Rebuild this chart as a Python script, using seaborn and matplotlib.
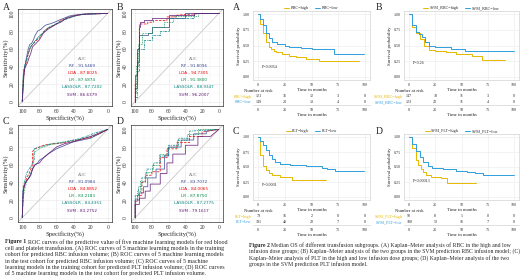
import numpy as np
import pandas as pd
import matplotlib
matplotlib.use("Agg")
import matplotlib.pyplot as plt
import seaborn as sns

# ---------------- data ----------------
models = ["RF", "LDA", "LR", "LASSOLR", "SVM"]
model_colors = ["#3B4992", "#EE0000", "#008B45", "#008280", "#631879"]
model_dashes = [(None, None), (3, 1.5), (1, 1), (3, 1, 1, 1), (None, None)]

auc_A = [91.5469, 87.8025, 87.5874, 87.7202, 86.6379]
auc_B = [91.8096, 94.7305, 91.3800, 88.9347, 96.2007]
auc_C = [81.0984, 84.8852, 83.2183, 84.4351, 83.2752]
auc_D = [83.7072, 84.0065, 87.8750, 87.2775, 79.1617]

roc_A = {
    "RF": ([100, 99, 98, 97, 95, 93, 91, 89, 87, 85, 82, 78, 75, 72, 68, 62, 58, 50, 45, 40, 30, 20, 0],
           [0, 20, 35, 40, 50, 60, 65, 66, 70, 75, 80, 82, 85, 87, 88, 90, 92, 95, 97, 98, 99, 100, 100]),
    "LDA": ([100, 99, 97, 96, 94, 92, 90, 88, 85, 80, 76, 70, 66, 60, 55, 48, 40, 30, 0],
            [0, 25, 38, 42, 50, 58, 62, 65, 68, 72, 78, 83, 85, 88, 92, 94, 97, 99, 100]),
    "LR": ([100, 99, 98, 96, 94, 91, 89, 87, 84, 80, 75, 70, 64, 58, 52, 45, 38, 28, 0],
           [0, 22, 36, 44, 52, 60, 63, 66, 70, 74, 79, 84, 86, 89, 92, 95, 97, 99, 100]),
    "LASSOLR": ([100, 99, 98, 96, 93, 91, 89, 86, 83, 79, 74, 69, 63, 57, 51, 44, 36, 26, 0],
                [0, 28, 37, 45, 54, 61, 64, 67, 71, 75, 80, 84, 87, 90, 93, 95, 98, 99, 100]),
    "SVM": ([100, 99, 98, 97, 96, 94, 92, 90, 88, 85, 80, 75, 70, 65, 60, 55, 48, 40, 30, 0],
            [0, 15, 30, 38, 40, 44, 50, 55, 62, 65, 70, 78, 82, 85, 88, 90, 95, 97, 99, 100]),
}
roc_B = {
    "RF": ([100, 100, 98, 98, 96, 96, 85, 85, 80, 80, 60, 60, 40, 40, 0],
           [0, 15, 15, 45, 45, 75, 75, 78, 78, 85, 85, 95, 95, 100, 100]),
    "LDA": ([100, 100, 97, 97, 95, 95, 85, 85, 78, 78, 62, 62, 50, 50, 20, 0],
            [0, 20, 20, 55, 55, 88, 88, 90, 90, 92, 92, 96, 96, 98, 100, 100]),
    "LR": ([100, 100, 99, 99, 97, 97, 92, 92, 80, 80, 65, 65, 55, 55, 25, 25, 0],
           [0, 10, 10, 40, 40, 65, 65, 78, 78, 85, 85, 90, 90, 97, 97, 100, 100]),
    "LASSOLR": ([100, 100, 98, 98, 95, 95, 90, 90, 80, 80, 70, 70, 60, 60, 30, 30, 0],
                [0, 5, 5, 35, 35, 60, 60, 70, 70, 75, 75, 80, 80, 95, 95, 100, 100]),
    "SVM": ([100, 100, 98, 98, 96, 96, 94, 94, 90, 90, 80, 80, 60, 60, 30, 30, 0],
            [0, 30, 30, 60, 60, 85, 85, 90, 90, 92, 92, 95, 95, 98, 98, 100, 100]),
}
roc_C = {
    "RF": ([100, 99, 97, 95, 92, 90, 88, 85, 82, 80, 75, 70, 65, 60, 55, 50, 45, 40, 30, 20, 10, 0],
           [0, 30, 38, 42, 45, 50, 55, 60, 62, 65, 68, 72, 75, 78, 80, 82, 84, 86, 88, 90, 95, 100]),
    "LDA": ([100, 99, 98, 95, 92, 90, 88, 88, 85, 80, 75, 70, 60, 50, 40, 30, 20, 10, 0],
            [0, 25, 35, 45, 50, 55, 60, 75, 78, 80, 82, 83, 84, 85, 87, 89, 91, 95, 100]),
    "LR": ([100, 99, 97, 94, 91, 89, 87, 87, 83, 78, 72, 66, 58, 48, 38, 28, 18, 8, 0],
           [0, 22, 33, 43, 48, 53, 58, 72, 76, 79, 81, 83, 84, 86, 88, 90, 92, 96, 100]),
    "LASSOLR": ([100, 99, 97, 95, 92, 90, 88, 86, 86, 80, 72, 65, 55, 45, 35, 25, 15, 0],
                [0, 35, 42, 50, 55, 58, 62, 65, 78, 80, 82, 84, 85, 87, 89, 92, 96, 100]),
    "SVM": ([100, 99, 98, 96, 93, 90, 88, 85, 80, 75, 70, 65, 60, 50, 40, 30, 20, 10, 0],
            [0, 30, 35, 40, 44, 48, 55, 60, 62, 68, 72, 76, 80, 84, 86, 89, 92, 96, 100]),
}
roc_D = {
    "RF": ([100, 100, 95, 95, 90, 90, 85, 85, 75, 75, 65, 65, 60, 60, 45, 45, 30, 30, 15, 15, 0],
           [0, 20, 20, 28, 28, 35, 35, 45, 45, 55, 55, 70, 70, 80, 80, 88, 88, 95, 95, 98, 100]),
    "LDA": ([100, 100, 97, 97, 92, 92, 88, 88, 80, 80, 70, 70, 62, 62, 50, 50, 35, 35, 20, 20, 0],
            [0, 18, 18, 25, 25, 40, 40, 48, 48, 52, 52, 68, 68, 78, 78, 85, 85, 92, 92, 97, 100]),
    "LR": ([100, 100, 98, 98, 94, 94, 88, 88, 80, 80, 72, 72, 62, 62, 50, 50, 38, 38, 25, 25, 0],
           [0, 22, 22, 30, 30, 42, 42, 52, 52, 60, 60, 72, 72, 80, 80, 88, 88, 95, 95, 100, 100]),
    "LASSOLR": ([100, 100, 96, 96, 92, 92, 86, 86, 78, 78, 70, 70, 60, 60, 48, 48, 35, 35, 0],
                [0, 25, 25, 35, 35, 45, 45, 55, 55, 62, 62, 70, 70, 82, 82, 90, 90, 98, 100]),
    "SVM": ([100, 100, 95, 95, 88, 88, 82, 82, 70, 70, 62, 62, 55, 55, 40, 40, 25, 25, 10, 0],
            [0, 15, 15, 22, 22, 30, 30, 38, 38, 50, 50, 62, 62, 72, 72, 82, 82, 92, 92, 100]),
}

# Kaplan-Meier step curves (time in months, survival probability)
km_A_hi_t = [0, 2, 4, 7, 10, 12, 15, 17, 22, 29, 35, 45, 57, 95]
km_A_hi_s = [1.0, 0.85, 0.70, 0.55, 0.48, 0.45, 0.42, 0.39, 0.36, 0.33, 0.31, 0.29, 0.26, 0.26]
km_A_lo_t = [0, 2, 4, 7, 10, 13, 18, 25, 29, 40, 50, 71, 99]
km_A_lo_s = [1.0, 0.92, 0.83, 0.70, 0.62, 0.55, 0.53, 0.50, 0.47, 0.46, 0.45, 0.37, 0.37]

km_B_hi_t = [0, 3, 6, 10, 14, 19, 25, 35, 45, 60, 70, 92]
km_B_hi_s = [1.0, 0.80, 0.70, 0.60, 0.50, 0.43, 0.41, 0.39, 0.36, 0.34, 0.27, 0.27]
km_B_lo_t = [0, 3, 6, 9, 12, 15, 19, 25, 33, 40, 53, 100]
km_B_lo_s = [1.0, 0.82, 0.72, 0.68, 0.64, 0.55, 0.49, 0.48, 0.48, 0.45, 0.41, 0.41]

km_C_hi_t = [0, 2, 4, 7, 10, 13, 20, 32, 64]
km_C_hi_s = [1.0, 0.70, 0.52, 0.45, 0.40, 0.37, 0.34, 0.29, 0.29]
km_C_lo_t = [0, 2, 4, 7, 10, 13, 16, 20, 30, 45, 60, 65, 72, 99]
km_C_lo_s = [1.0, 0.93, 0.87, 0.78, 0.70, 0.63, 0.58, 0.55, 0.53, 0.51, 0.49, 0.47, 0.43, 0.43]

km_D_hi_t = [0, 3, 6, 8, 11, 13, 16, 21, 30, 36, 64]
km_D_hi_s = [1.0, 0.82, 0.62, 0.54, 0.46, 0.42, 0.37, 0.33, 0.31, 0.24, 0.24]
km_D_lo_t = [0, 3, 6, 10, 13, 18, 22, 32, 45, 55, 63, 71, 100]
km_D_lo_s = [1.0, 0.88, 0.76, 0.66, 0.59, 0.52, 0.48, 0.46, 0.43, 0.42, 0.40, 0.36, 0.36]

risk_times = [0, 25, 50, 75, 100]
risk_A_hi = [121, 31, 12, 3, 0]
risk_A_lo = [149, 20, 13, 4, 0]
risk_B_hi = [147, 38, 11, 3, 0]
risk_B_lo = [123, 22, 11, 4, 0]
risk_C_hi = [79, 16, 2, 0, 0]
risk_C_lo = [191, 48, 22, 7, 0]
risk_D_hi = [90, 8, 1, 0, 0]
risk_D_lo = [180, 52, 16, 7, 0]

groups_A = ["RBC=high", "RBC=low"]
groups_B = ["SVM_RBC=high", "SVM_RBC=low"]
groups_C = ["PLT=high", "PLT=low"]
groups_D = ["SVM_PLT=high", "SVM_PLT=low"]
pvals = ["P=0.0054", "P=0.26", "P=0.0001", "P=0.00013"]
km_colors = ["#E7B800", "#2E9FDF"]

caption1_lines = [
    "ROC curves of the predictive value of five machine learning models for red blood",
    "cell and platelet transfusion. (A) ROC curves of 5 machine learning models in the training",
    "cohort for predicted RBC infusion volume; (B) ROC curves of 5 machine learning models",
    "in the test cohort for predicted RBC infusion volume; (C) ROC curves of 5 machine",
    "learning models in the training cohort for predicted PLT infusion volume; (D) ROC curves",
    "of 5 machine learning models in the test cohort for predicted PLT infusion volume.",
]
caption2_lines = [
    "Median OS of different transfusion subgroups. (A) Kaplan–Meier analysis of RBC in the high and low",
    "infusion dose groups; (B) Kaplan–Meier analysis of the two groups in the SVM prediction RBC infusion model; (C)",
    "Kaplan–Meier analysis of PLT in the high and low infusion dose groups; (D) Kaplan–Meier analysis of the two",
    "groups in the SVM prediction PLT infusion model.",
]

# ---------------- figure ----------------
sns.set_theme(style="white")
plt.rcParams["font.family"] = ["Liberation Serif", "DejaVu Serif"]
plt.rcParams["axes.linewidth"] = 0.5

W, H = 520, 279
fig = plt.figure(figsize=(W / 100, H / 100), dpi=100)


def rect(x0, y0, x1, y1):
    return [x0 / W, 1 - y1 / H, (x1 - x0) / W, (y1 - y0) / H]


def draw_roc(ax, roc, aucs):
    rows = []
    for m, (sp, se) in roc.items():
        for i, (a, b) in enumerate(zip(sp, se)):
            rows.append((m, i, a, b))
    df = pd.DataFrame(rows, columns=["model", "order", "spec", "sens"])
    ax.axline((100, 0), (0, 100), color="#C9C9C9", lw=0.6, zorder=1)
    sns.lineplot(data=df, x="spec", y="sens", hue="model", style="model",
                 hue_order=models, style_order=models,
                 palette=dict(zip(models, model_colors)),
                 dashes=dict(zip(models, [d if d[0] else "" for d in model_dashes])),
                 estimator=None, sort=False, units="model", lw=0.6, alpha=0.85,
                 legend=False, ax=ax, zorder=3)
    ax.set_xlim(105, -5)
    ax.set_ylim(-5, 105)
    ax.set_xticks([100, 80, 60, 40, 20, 0])
    ax.set_yticks([0, 20, 40, 60, 80, 100])
    ax.set_xticks([90, 70, 50, 30, 10], minor=True)
    ax.set_yticks([10, 30, 50, 70, 90], minor=True)
    ax.grid(True, which="major", color="#E6E6E6", lw=0.4)
    ax.grid(True, which="minor", color="#F2F2F2", lw=0.3)
    ax.tick_params(axis="both", which="major", labelsize=4, length=1.5, width=0.4, pad=1, colors="#333333")
    ax.tick_params(axis="both", which="minor", length=0)
    for lab in ax.get_yticklabels():
        lab.set_rotation(90)
        lab.set_va("center")
    ax.set_xlabel("Specificity(%)", fontsize=4.8, labelpad=0.5)
    ax.set_ylabel("Sensitivity(%)", fontsize=4.8, labelpad=1)
    for s in ax.spines.values():
        s.set_color("#333333")
        s.set_linewidth(0.5)
    ys = [48, 40, 32, 24, 16, 8]
    ax.text(30, ys[0], "AUC", color="#8C8C8C", fontsize=3, ha="center", va="center",
            family=["DejaVu Sans"])
    for m, c, a, y in zip(models, model_colors, aucs, ys[1:]):
        ax.text(30, y, f"{m} - {a:.4f}", color=c, fontsize=3, ha="center", va="center",
                family=["DejaVu Sans"])


roc_rects = [rect(18, 9, 112, 106), rect(131, 9, 223, 106),
             rect(18, 125, 112, 222), rect(131, 125, 223, 222)]
for r, roc, aucs in zip(roc_rects, [roc_A, roc_B, roc_C, roc_D], [auc_A, auc_B, auc_C, auc_D]):
    ax = fig.add_axes(r)
    draw_roc(ax, roc, aucs)

for letter, (x, y) in zip("ABCD", [(3, 7), (117, 7), (3, 122), (117, 122)]):
    fig.text(x / W, 1 - y / H, letter, fontsize=7, ha="left", va="center")


def draw_km(ax, rax, hi_t, hi_s, lo_t, lo_s, groups, r_hi, r_lo, pval, p_y):
    df = pd.concat([
        pd.DataFrame({"time": hi_t, "surv": hi_s, "group": groups[0]}),
        pd.DataFrame({"time": lo_t, "surv": lo_s, "group": groups[1]}),
    ])
    sns.lineplot(data=df, x="time", y="surv", hue="group", hue_order=groups,
                 palette=km_colors, drawstyle="steps-post", estimator=None,
                 lw=0.7, ax=ax)
    sns.move_legend(ax, "lower center", bbox_to_anchor=(0.5, 1.01), ncol=2, title=None,
                    frameon=False, fontsize=3, handlelength=1.2, columnspacing=1.5,
                    handletextpad=0.4, borderaxespad=0, borderpad=0)
    ax.set_xlim(-5, 105)
    ax.set_ylim(-0.05, 1.05)
    ax.set_xticks(risk_times)
    ax.set_yticks([0, 0.25, 0.5, 0.75, 1.0])
    ax.set_yticklabels(["0.00", "0.25", "0.50", "0.75", "1.00"])
    ax.grid(True, color="#EBEBEB", lw=0.4)
    ax.tick_params(labelsize=3, length=1.2, width=0.3, pad=1, colors="#333333")
    ax.set_xlabel("Time in months", fontsize=3.4, labelpad=0.5)
    ax.set_ylabel("Survival probability", fontsize=3.4, labelpad=1)
    for s in ax.spines.values():
        s.set_color("#C8C8C8")
        s.set_linewidth(0.4)
    ax.text(3, p_y, pval, fontsize=3, ha="left", va="center")

    rax.set_xlim(-5, 105)
    rax.set_ylim(-0.6, 1.6)
    for t, n in zip(risk_times, r_hi):
        rax.text(t, 1, str(n), fontsize=3, ha="center", va="center")
    for t, n in zip(risk_times, r_lo):
        rax.text(t, 0, str(n), fontsize=3, ha="center", va="center")
    rax.set_xticks(risk_times)
    rax.set_yticks([1, 0])
    rax.set_yticklabels(groups)
    for lab, c in zip(rax.get_yticklabels(), km_colors):
        lab.set_color(c)
    rax.tick_params(labelsize=3, length=0, pad=1)
    rax.tick_params(axis="x", length=1.2, width=0.3)
    rax.set_xlabel("Time in months", fontsize=3.4, labelpad=0.5)
    rax.set_title("Number at risk", loc="left", fontsize=3.4, pad=1, x=-0.08)
    for s in ["top", "right", "left"]:
        rax.spines[s].set_visible(False)
    rax.spines["bottom"].set_color("#C8C8C8")
    rax.spines["bottom"].set_linewidth(0.4)


km_sets = [
    (rect(253, 11, 370, 80), rect(253, 93, 370, 105), km_A_hi_t, km_A_hi_s, km_A_lo_t, km_A_lo_s,
     groups_A, risk_A_hi, risk_A_lo, pvals[0], 0.15),
    (rect(404, 11, 519, 80), rect(404, 93, 519, 105), km_B_hi_t, km_B_hi_s, km_B_lo_t, km_B_lo_s,
     groups_B, risk_B_hi, risk_B_lo, pvals[1], 0.22),
    (rect(253, 134, 370, 200), rect(253, 213, 370, 225), km_C_hi_t, km_C_hi_s, km_C_lo_t, km_C_lo_s,
     groups_C, risk_C_hi, risk_C_lo, pvals[2], 0.2),
    (rect(404, 134, 519, 200), rect(404, 213, 519, 225), km_D_hi_t, km_D_hi_s, km_D_lo_t, km_D_lo_s,
     groups_D, risk_D_hi, risk_D_lo, pvals[3], 0.27),
]
for r1, r2, ht, hs, lt, ls, g, rh, rl, pv, py in km_sets:
    ax = fig.add_axes(r1)
    rax = fig.add_axes(r2)
    draw_km(ax, rax, ht, hs, lt, ls, g, rh, rl, pv, py)

for letter, (x, y) in zip("ABCD", [(233, 8), (376, 8), (233, 131), (376, 131)]):
    fig.text(x / W, 1 - y / H, letter, fontsize=7, ha="left", va="center")


# ---------------- captions ----------------
fig.canvas.draw()
renderer = fig.canvas.get_renderer()


def text_width(s, **kw):
    t = fig.text(0, 0, s, **kw)
    w = t.get_window_extent(renderer).width
    t.remove()
    return w


def caption(label, lines, x0, x1, y0, dy):
    fs0 = 4.0
    lab_w = text_width(label + " ", fontsize=fs0, weight="bold")
    widest = max([lab_w + text_width(lines[0], fontsize=fs0)] +
                 [text_width(l, fontsize=fs0) for l in lines[1:-1]])
    fs = fs0 * (x1 - x0) / widest * 0.99
    lab_w = text_width(label + " ", fontsize=fs, weight="bold")
    for i, line in enumerate(lines):
        y = 1 - (y0 + i * dy) / H
        x = x0
        if i == 0:
            fig.text(x / W, y, label, fontsize=fs, weight="bold", ha="left", va="center")
            x += lab_w
        fig.text(x / W, y, line, fontsize=fs, ha="left", va="center")


caption("Figure 1", caption1_lines, 5, 228, 242, 6.2)
caption("Figure 2", caption2_lines, 249, 517, 245, 6.4)

fig.savefig("out.png", dpi=100)
